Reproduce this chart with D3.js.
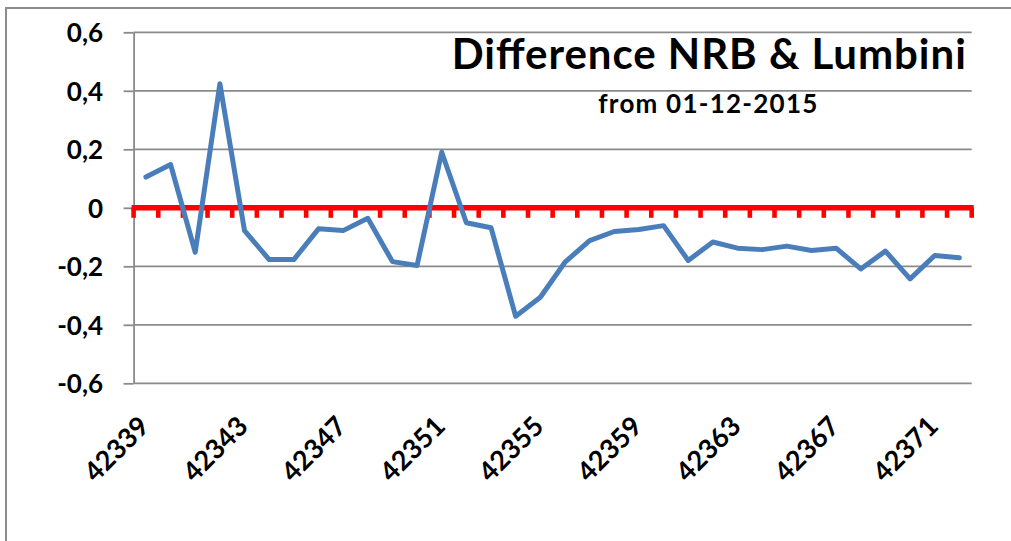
<!DOCTYPE html>
<html>
<head>
<meta charset="utf-8">
<script src="https://cdn.jsdelivr.net/npm/d3@7"></script>
<style>
  html, body { margin: 0; padding: 0; background: #fff; overflow: hidden; }
  svg { display: block; }
  text { font-family: Lato, "Open Sans", sans-serif; font-weight: bold; fill: #000; }
</style>
</head>
<body>
<svg id="chart" width="1011" height="541"></svg>
<script>
// ---- data ----
const categories = d3.range(42339, 42373).map(String);
const values = [
  0.105, 0.148, -0.152, 0.424, -0.078, -0.177, -0.177, -0.072, -0.078, -0.036,
  -0.184, -0.197, 0.190, -0.051, -0.068, -0.371, -0.306, -0.186, -0.112, -0.081,
  -0.074, -0.061, -0.180, -0.117, -0.138, -0.143, -0.131, -0.146, -0.138, -0.209,
  -0.148, -0.243, -0.163, -0.171
];
const yTicks = [-0.6, -0.4, -0.2, 0, 0.2, 0.4, 0.6];
const xTickLabels = ["42339","42343","42347","42351","42355","42359","42363","42367","42371"];
const titleText = "Difference NRB & Lumbini";
const subtitleText = "from 01-12-2015";

// ---- layout ----
const svg = d3.select("#chart");
const plotL = 133.6, plotR = 971.7, plotT = 32.3, plotB = 383.3;

const x = d3.scaleBand().domain(categories).range([plotL, plotR]).padding(0);
const y = d3.scaleLinear().domain([-0.6, 0.6]).range([plotB, plotT]);

const loc = d3.formatLocale({decimal: ",", thousands: ".", grouping: [3], currency: ["", ""], minus: "-"});
const fmt = loc.format(".1f");
const tickFmt = d => (d === 0 ? "0" : fmt(d));

// outer chart border (left and top edges visible)
svg.append("path")
  .attr("d", "M6,560 L6,8 L1040,8")
  .attr("fill", "none").attr("stroke", "#8c8c8c").attr("stroke-width", 2);

// gridlines
svg.append("g")
  .selectAll("line").data(yTicks).join("line")
  .attr("x1", plotL).attr("x2", plotR)
  .attr("y1", d => y(d)).attr("y2", d => y(d))
  .attr("stroke", "#8a8a8a").attr("stroke-width", 1.8);

// y axis
const yAxis = svg.append("g")
  .attr("transform", `translate(${plotL},0)`)
  .call(d3.axisLeft(y).tickValues(yTicks).tickFormat(tickFmt).tickSize(10).tickPadding(10).tickSizeOuter(0));
yAxis.select(".domain").attr("stroke", "#8a8a8a").attr("stroke-width", 1.8);
yAxis.selectAll(".tick line").attr("stroke", "#8a8a8a").attr("stroke-width", 1.8);
yAxis.selectAll(".tick text")
  .attr("font-size", 26).attr("font-family", "Lato, sans-serif").attr("font-weight", "bold")
  .attr("fill", "#000").attr("x", -30.5).attr("dy", "0.36em");

// category labels (at the bottom, rotated)
svg.append("g")
  .selectAll("text").data(xTickLabels).join("text")
  .attr("transform", d => `translate(${x(d) + x.bandwidth() / 2 + 5},${428}) rotate(-45)`)
  .attr("text-anchor", "end")
  .attr("font-size", 27)
  .text(d => d);

// red horizontal axis at zero with tick marks between categories
const xAxis = svg.append("g")
  .attr("transform", `translate(0,${y(0)})`)
  .call(d3.axisBottom(x).tickValues([]).tickSizeOuter(0));
xAxis.select(".domain").remove();
const boundaries = categories.map(c => x(c)).concat([plotR]);
xAxis.selectAll("line.rtick").data(boundaries).join("line")
  .attr("class", "rtick")
  .attr("x1", d => d).attr("x2", d => d)
  .attr("y1", 0).attr("y2", 10)
  .attr("stroke", "#ff0000").attr("stroke-width", 4.6);
xAxis.append("line")
  .attr("x1", plotL - 2).attr("x2", plotR + 2)
  .attr("y1", 0).attr("y2", 0)
  .attr("stroke", "#ff0000").attr("stroke-width", 5.4);

// data line
const line = d3.line()
  .x((d, i) => x(categories[i]) + x.bandwidth() / 2)
  .y(d => y(d));
svg.append("path")
  .datum(values)
  .attr("d", line)
  .attr("fill", "none")
  .attr("stroke", "#4a7ebb")
  .attr("stroke-width", 5)
  .attr("stroke-linejoin", "round")
  .attr("stroke-linecap", "round");

// titles
svg.append("text")
  .attr("x", 708.8).attr("y", 69.3)
  .attr("text-anchor", "middle")
  .attr("font-size", 42)
  .attr("textLength", 514).attr("lengthAdjust", "spacing")
  .text(titleText);
svg.append("text")
  .attr("x", 707.8).attr("y", 112.7)
  .attr("text-anchor", "middle")
  .attr("font-size", 26)
  .attr("textLength", 219).attr("lengthAdjust", "spacing")
  .text(subtitleText);
</script>
</body>
</html>
